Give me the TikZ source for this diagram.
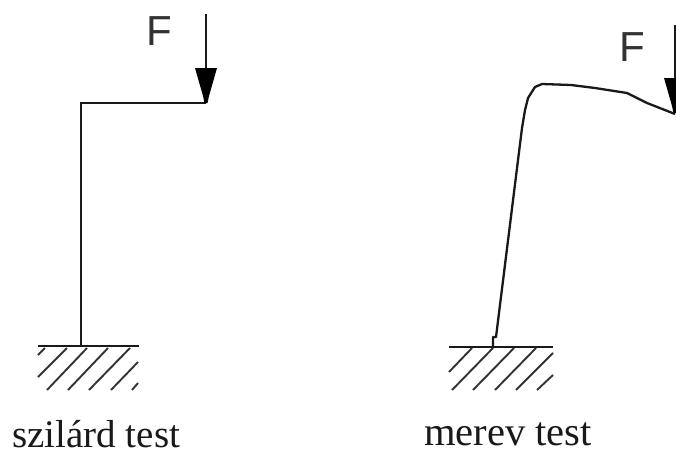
\documentclass[tikz,border=0pt]{standalone}
\usepackage{fontspec}
\setmainfont{Liberation Serif}
\newfontfamily\forcefont{Liberation Sans}
\begin{document}
\begin{tikzpicture}[x=1pt,y=-1pt,
  member/.style={draw=black!90,line width=2.3pt,line join=miter},
  hatchline/.style={draw=black!80,line width=1.9pt},
  groundline/.style={draw=black!90,line width=2.3pt},
  forceline/.style={draw=black!90,line width=1.9pt},
  forcehead/.style={fill=black,draw=none},
  forcelabel/.style={inner sep=0pt,anchor=base west,font=\fontsize{42}{42}\forcefont,text=black!80},
  caption/.style={inner sep=0pt,anchor=base west,text=black!90}]
\useasboundingbox (0,0) rectangle (676,450);
\fill[white] (0,0) rectangle (676,450);
% left
\coordinate (lbase) at (81,346);
\coordinate (lcorner) at (81,103);
\coordinate (ltip) at (206,103);
\coordinate (ltail) at (206,14);
\draw[member] (lbase) -- (lcorner) -- (ltip);
\draw[forceline] (ltail) -- (206,70);
\fill[forcehead] (195,68) -- (217,68) -- (209,96) -- (207.5,103) -- (204.5,103) -- (203,96) -- cycle;
\draw[groundline] (38,346) -- (139,346);
\foreach \a/\b/\c/\d in {38/355/45/348,38/377/67/348,47/390/87/348,68/390/108/348,89/390/130/348,111/390/138/362,132/390/138/383}
  \draw[hatchline] (\a,\b) -- (\c,\d);
\node[forcelabel] (lF) at (146,45) {F};
\node[caption,font=\fontsize{39}{40}\selectfont] (lcap) at (12,447) {szilárd test};
% right
\coordinate (rbase) at (493,346);
\coordinate (rtip) at (675,114);
\coordinate (rtail) at (675,25);
\draw[member,line join=round] (rbase) -- (493,337) -- (496,337) -- (522,128)
  -- (525,110) -- (528,98) -- (535,87) -- (542,84)
  -- (571,85) -- (595,88) -- (627,93) -- (647,103) -- (rtip);
\draw[forceline] (rtail) -- (675,80);
\fill[forcehead] (664,78) -- (686,78) -- (678,106) -- (676.5,113) -- (673.5,113) -- (672,106) -- cycle;
\draw[groundline] (449,347) -- (553,347);
\foreach \a/\b/\c/\d in {449/372/472/348,452/390/493/348,473/390/514/348,495/390/536/348,516/390/553/353,537/390/553/375}
  \draw[hatchline] (\a,\b) -- (\c,\d);
\node[forcelabel] (rF) at (619,61) {F};
\node[caption,font=\fontsize{40.5}{41}\selectfont] (rcap) at (424,445) {merev test};
\end{tikzpicture}
\end{document}
